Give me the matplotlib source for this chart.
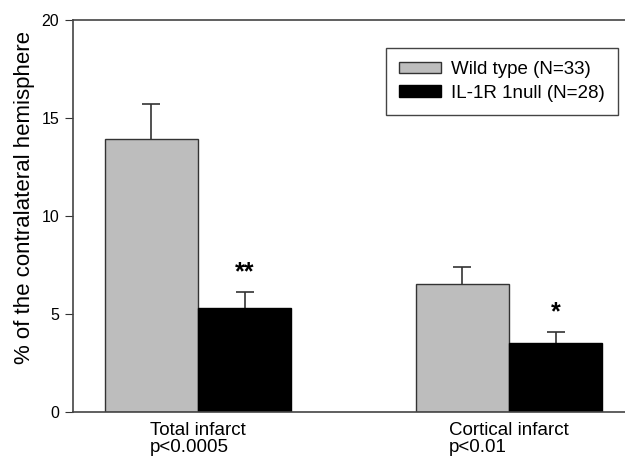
import numpy as np
import matplotlib
matplotlib.use('Agg')
import matplotlib.pyplot as plt

plt.rcParams['font.family'] = ['Liberation Sans', 'DejaVu Sans']

groups = ['Total infarct\np<0.0005', 'Cortical infarct\np<0.01']
series = ['Wild type (N=33)', 'IL-1R 1null (N=28)']
wild = [13.95, 6.55]
wild_err = [1.75, 0.85]
null = [5.3, 3.52]
null_err = [0.8, 0.56]
stars = ['**', '*']

fig = plt.figure(figsize=(6.25, 4.61), dpi=100)
ax = fig.add_axes([0.1168, 0.1063, 0.8832, 0.8503])

x = np.arange(len(groups))
w = 0.3
ax.bar(x - w / 2, wild, w, color='#bdbdbd', edgecolor='#333333',
       linewidth=1, label=series[0], zorder=2)
ax.bar(x + w / 2, null, w, color='black', edgecolor='black',
       linewidth=1, label=series[1], zorder=2)

# upward-only error bars
for xs, vals, errs in [(x - w / 2, wild, wild_err), (x + w / 2, null, null_err)]:
    tops = np.array(vals) + np.array(errs)
    ax.vlines(xs, vals, tops, color='#333333', linewidth=1.2, zorder=1)
    ax.plot(xs, tops, linestyle='none', marker='_', markersize=13,
            markeredgewidth=1.2, color='#333333', zorder=1)

for i in range(len(groups)):
    ax.text(x[i] + w / 2, null[i] + null_err[i] + 0.4, stars[i],
            ha='center', va='bottom', fontsize=18, fontweight='bold')

ax.set_xlim(-0.402, 1.373)
ax.set_ylim(0, 20)
ax.set_yticks([0, 5, 10, 15, 20])
ax.set_xticks(x)
ax.set_xticklabels(groups, fontsize=13.5, multialignment='left', linespacing=1.05)
ax.tick_params(axis='x', length=0, pad=7)
ax.tick_params(axis='y', direction='out', length=6, labelsize=11.5,
               color='#333333', pad=4)
ax.set_ylabel('% of the contralateral hemisphere', fontsize=16)
ax.yaxis.set_label_coords(-0.068, 0.546)
ax.spines['right'].set_visible(False)
for s in ['left', 'top', 'bottom']:
    ax.spines[s].set_color('#444444')
    ax.spines[s].set_linewidth(1.2)

leg = ax.legend(loc='upper right', bbox_to_anchor=(0.987, 0.929), fontsize=13.5,
                fancybox=False, edgecolor='#444444', framealpha=1,
                handlelength=2.2, handleheight=0.55, handletextpad=0.55,
                borderpad=0.7, labelspacing=0.35, borderaxespad=0)
leg.get_frame().set_linewidth(1)

fig.savefig('out.png', dpi=100)
